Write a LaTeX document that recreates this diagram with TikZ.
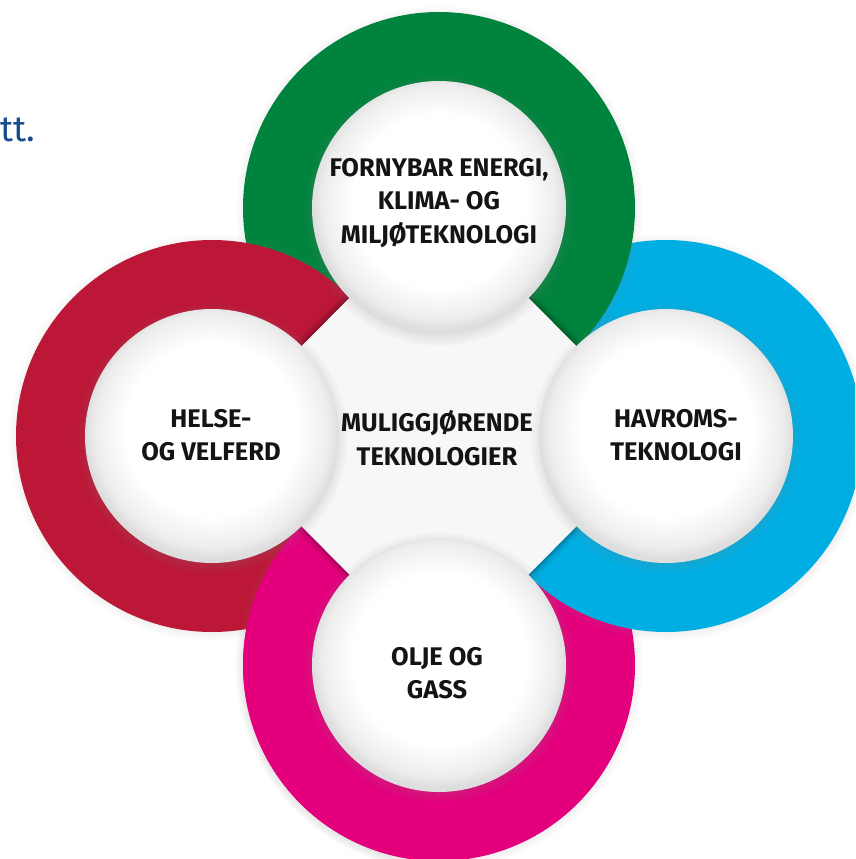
\documentclass[tikz,border=0pt]{standalone}
\usepackage{fontspec}
\setmainfont{Fira Sans}
\usetikzlibrary{shadows,fadings}
\definecolor{cgreen}{RGB}{0,132,61}
\definecolor{cblue}{RGB}{0,174,227}
\definecolor{cpink}{RGB}{228,0,124}
\definecolor{cred}{RGB}{188,23,55}
\definecolor{cgray}{RGB}{247,247,247}
\definecolor{cnavy}{RGB}{22,78,140}
\pgfdeclareradialshading{holeshade}{\pgfpoint{0bp}{2bp}}{color(0bp)=(white); color(17bp)=(white); color(23bp)=(black!7); color(25bp)=(black!13); color(50bp)=(black!13)}
\begin{document}
\begin{tikzpicture}[x=1pt,y=-1pt,
  disk/.style={circle, inner sep=0pt, minimum size=392pt,
    circular drop shadow={shadow xshift=0pt, shadow yshift=-1pt, shadow scale=1.04, opacity=0.35}},
  hole/.style={circle, inner sep=0pt, minimum size=254pt, shading=holeshade,
    circular drop shadow={shadow xshift=0pt, shadow yshift=-2pt, shadow scale=1.07, opacity=0.3}},
  lbl/.style={align=center, font=\fontsize{25.5}{33.5}\selectfont\bfseries, text=black!92}]
\useasboundingbox (0,0) rectangle (855,859);
\fill[white] (0,0) rectangle (855,859);
\coordinate (G) at (439,208);
\coordinate (B) at (666,436);
\coordinate (P) at (439,665);
\coordinate (R) at (212,436);
\begin{scope}
\clip (0,0) rectangle (855,859);
% coloured disks
\node[disk, fill=cpink] (pinkdisk) at (P) {};
\node[disk, fill=cblue] (bluedisk) at (B) {};
\node[disk, fill=cgreen] (greendisk) at (G) {};
\node[disk, fill=cred] (reddisk) at (R) {};
\begin{scope}
\clip (0,436) rectangle (439,859);
\node[disk, fill=cpink] (pinkdisktop) at (P) {};
\end{scope}
% centre diamond with soft edge shadow
\foreach \w/\o in {14/0.05,10/0.06,6/0.08,3/0.1}
  \draw[line width=\w pt, black, opacity=\o] (G) -- (B) -- (P) -- (R) -- cycle;
\fill[cgray] (G) -- (B) -- (P) -- (R) -- cycle;
% white circles
\node[hole] (hg) at (G) {};
\node[hole] (hb) at (B) {};
\node[hole] (hp) at (P) {};
\node[hole] (hr) at (R) {};
\end{scope}
% partial text at top left
\node[anchor=base west, inner sep=0pt, text=cnavy, font=\fontsize{36}{36}\selectfont] (tt) at (0.5,141) {tt.};
% labels
\node[lbl] (tg) at (439,203) {FORNYBAR ENERGI,\\KLIMA- OG\\MILJØTEKNOLOGI};
\node[lbl] (tc) at (437,438) {MULIGGJØRENDE\\TEKNOLOGIER};
\node[lbl] (tr) at (211,435) {HELSE-\\OG VELFERD};
\node[lbl] (tb) at (676,435) {HAVROMS-\\TEKNOLOGI};
\node[lbl] (tp) at (437,673) {OLJE OG\\GASS};
\end{tikzpicture}
\end{document}
